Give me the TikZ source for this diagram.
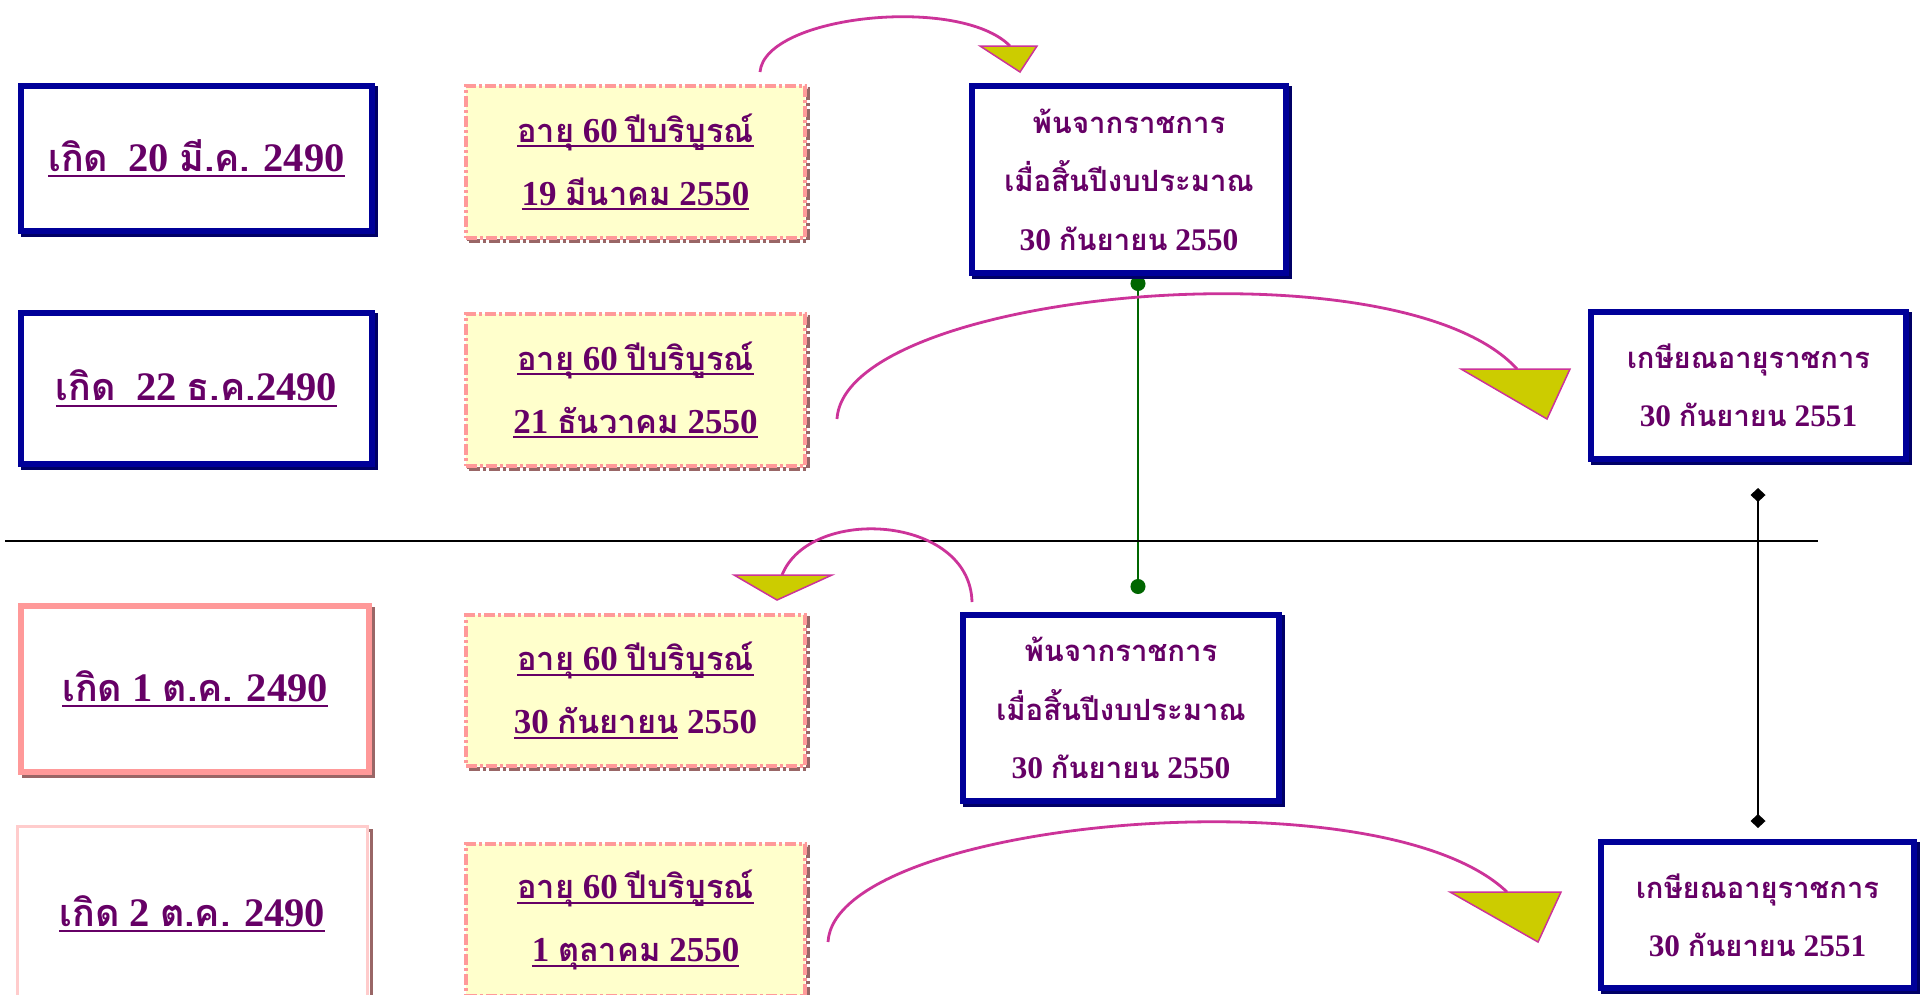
\documentclass[tikz,border=0pt]{standalone}
\usepackage{fontspec}
\setmainfont{Liberation Serif}
\newfontfamily\thx[Script=Thai, Scale=0.93]{Loma}
\usetikzlibrary{arrows.meta}
\definecolor{navy}{HTML}{000099}
\definecolor{navyshade}{HTML}{000066}
\definecolor{tpurple}{HTML}{660066}
\definecolor{pinkc}{HTML}{FF9999}
\definecolor{palepink}{HTML}{FFCCCC}
\definecolor{brownc}{HTML}{996666}
\definecolor{pyellow}{HTML}{FFFFCC}
\definecolor{arcpink}{HTML}{CC3399}
\definecolor{olivec}{HTML}{CCCC00}
\definecolor{greenc}{HTML}{006600}
\newcommand\ulx[1]{\leavevmode\setbox0=\hbox{#1}\rlap{\rule[-0.15em]{\wd0}{0.06em}}\box0}
\pgfdeclarelayer{bg}
\pgfsetlayers{bg,main}
\begin{document}
\begin{tikzpicture}[x=1pt,y=-1pt,
  basebox/.style={inner sep=0pt, align=center, text=tpurple},
  navybox/.style={basebox, draw=navy, line width=6pt, fill=white,
    preaction={draw=navyshade, line width=6pt, transform canvas={xshift=3pt,yshift=-3pt}}},
  agebox/.style={basebox, draw=pinkc, line width=4pt, fill=pyellow,
    dash pattern=on 11pt off 3pt on 3pt off 3pt,
    preaction={draw=brownc, line width=3.5pt, transform canvas={xshift=3pt,yshift=-3pt}}},
  pinkbox/.style={basebox, draw=pinkc, line width=6pt, fill=white,
    preaction={draw=brownc, line width=5pt, transform canvas={xshift=3pt,yshift=-3pt}}},
  palebox/.style={basebox, draw=palepink, line width=3pt, fill=white,
    preaction={draw=brownc, line width=3pt, transform canvas={xshift=4pt,yshift=-4pt}}},
  bigfont/.style={font=\bfseries\fontsize{40.5}{44}\selectfont},
  agefont/.style={font=\bfseries\fontsize{35}{63}\selectfont},
  offfont/.style={font=\bfseries\fontsize{31.5}{58.5}\selectfont},
  retfont/.style={font=\bfseries\fontsize{31.3}{58}\selectfont},
  curve/.style={draw=arcpink, line width=2.8pt},
  tri/.style={fill=olivec, draw=arcpink, line width=1.5pt, line join=miter},
  greenlink/.style={draw=greenc, line width=2pt, {Circle[length=15pt]}-{Circle[length=15pt]}},
  blacklink/.style={draw=black, line width=2pt, {Diamond[length=14pt,width=15pt]}-{Diamond[length=14pt,width=15pt]}},
  divider/.style={draw=black, line width=1.5pt}]
\useasboundingbox (0,0) rectangle (1921,994);
\begin{pgfonlayer}{bg}
\fill[white] (0,0) rectangle (1921,994);
\end{pgfonlayer}

% row 1
\node[navybox, bigfont, minimum width=351pt, minimum height=145pt] (a1) at (196.5,158.5)
  {\ulx{{\thx เกิด}\ \ 20 {\thx มี.ค.} 2490}};
\node[agebox, agefont, minimum width=339pt, minimum height=152pt] (b1) at (635.5,162)
  {\ulx{{\thx อายุ} 60 {\thx ปีบริบูรณ์}}\\\ulx{19 {\thx มีนาคม} 2550}};
\node[navybox, offfont, minimum width=314pt, minimum height=187pt] (c1) at (1129,179.5)
  {{\thx พ้นจากราชการ}\\{\thx เมื่อสิ้นปีงบประมาณ}\\30 {\thx กันยายน} 2550};

% row 2
\node[navybox, bigfont, minimum width=351pt, minimum height=151pt] (a2) at (196.5,388.5)
  {\ulx{{\thx เกิด}\ \ 22 {\thx ธ.ค.}2490}};
\node[agebox, agefont, minimum width=339pt, minimum height=152pt] (b2) at (635.5,390)
  {\ulx{{\thx อายุ} 60 {\thx ปีบริบูรณ์}}\\\ulx{21 {\thx ธันวาคม} 2550}};
\node[navybox, retfont, minimum width=315pt, minimum height=147pt] (d1) at (1748.5,385.5)
  {{\thx เกษียณอายุราชการ}\\30 {\thx กันยายน} 2551};

% row 3
\node[pinkbox, bigfont, minimum width=348pt, minimum height=166pt] (a3) at (195,689)
  {\ulx{{\thx เกิด} 1 {\thx ต.ค.} 2490}};
\node[agebox, agefont, minimum width=339pt, minimum height=151pt] (b3) at (635.5,690.5)
  {\ulx{{\thx อายุ} 60 {\thx ปีบริบูรณ์}}\\\ulx{30 {\thx กันยายน}}\ 2550};
\node[navybox, offfont, minimum width=316pt, minimum height=186pt] (c2) at (1121,708)
  {{\thx พ้นจากราชการ}\\{\thx เมื่อสิ้นปีงบประมาณ}\\30 {\thx กันยายน} 2550};

% row 4
\node[palebox, bigfont, minimum width=349.5pt, minimum height=175pt] (a4) at (192.25,914)
  {\ulx{{\thx เกิด} 2 {\thx ต.ค.} 2490}};
\node[agebox, agefont, minimum width=339pt, minimum height=152pt] (b4) at (635.5,920)
  {\ulx{{\thx อายุ} 60 {\thx ปีบริบูรณ์}}\\\ulx{1 {\thx ตุลาคม} 2550}};
\node[navybox, retfont, minimum width=313pt, minimum height=146pt] (d2) at (1757.5,915)
  {{\thx เกษียณอายุราชการ}\\30 {\thx กันยายน} 2551};

% coordinates for connectors
\coordinate (h1) at (5,541);
\coordinate (h2) at (1818,541);
\coordinate (gb) at (1138,594);
\coordinate (k1) at (1758,488);
\coordinate (k2) at (1758,828);
% arc 1
\coordinate (s1) at (760,72);  \coordinate (e1) at (1010,46);
\coordinate (t1a) at (980,46); \coordinate (t1b) at (1037,46); \coordinate (t1c) at (1020,72);
% arc 2
\coordinate (s2) at (837,419); \coordinate (e2) at (1517,369);
\coordinate (t2a) at (1461,369); \coordinate (t2b) at (1570,369); \coordinate (t2c) at (1547,419);
% arc 3
\coordinate (s3) at (972,602); \coordinate (e3) at (782,575);
\coordinate (t3a) at (734,575); \coordinate (t3b) at (832,575); \coordinate (t3c) at (777,600);
% arc 4
\coordinate (s4) at (828,942); \coordinate (e4) at (1507,892);
\coordinate (t4a) at (1450,892); \coordinate (t4b) at (1561,892); \coordinate (t4c) at (1538,942);

\begin{pgfonlayer}{bg}
\draw[greenlink] (gb |- c1.south) -- (gb);
\end{pgfonlayer}
\draw[divider] (h1) -- (h2);
\draw[blacklink] (k1) -- (k2);

\draw[curve] (s1) .. controls (765,15) and (960,-5) .. (e1);
\draw[tri] (t1a) -- (t1b) -- (t1c) -- cycle;
\draw[curve] (s2) .. controls (845,290) and (1400,240) .. (e2);
\draw[tri] (t2a) -- (t2b) -- (t2c) -- cycle;
\draw[curve] (s3) .. controls (970,515) and (810,505) .. (e3);
\draw[tri] (t3a) -- (t3b) -- (t3c) -- cycle;
\draw[curve] (s4) .. controls (835,820) and (1380,770) .. (e4);
\draw[tri] (t4a) -- (t4b) -- (t4c) -- cycle;
\end{tikzpicture}
\end{document}
